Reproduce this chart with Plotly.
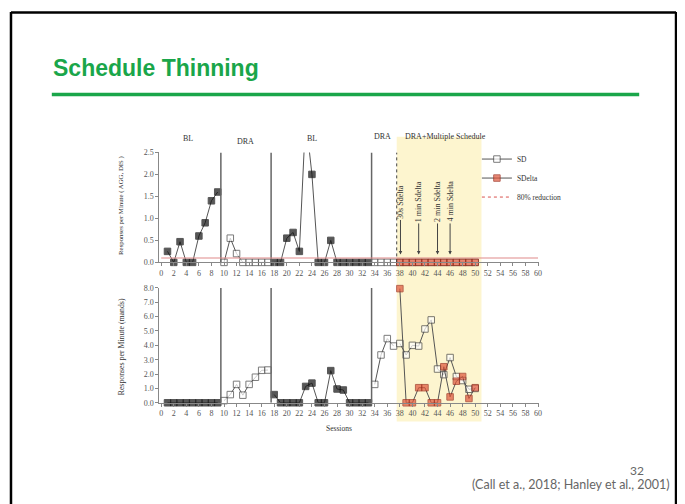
import plotly.graph_objects as go

# page size; the html body adds an 8px margin, so the figure is drawn smaller and shifted
PAGE_W, PAGE_H = 685, 504
OFF = 8
W, H = PAGE_W - OFF, PAGE_H - OFF

# sessions per phase
bl1_sessions = [1, 2, 3, 4, 5, 6, 7, 8, 9]
dra1_sessions = [10, 11, 12, 13, 14, 15, 16, 17]
bl2_sessions = [18, 19, 20, 21, 22, 23, 24, 25, 26, 27, 28, 29, 30, 31, 32, 33]
dra2_sessions = [34, 35, 36, 37]
mult_sessions = [38, 39, 40, 41, 42, 43, 44, 45, 46, 47, 48, 49, 50]

# top panel: responses per minute (AGG, DIS)
bl1_top = [0.25, 0, 0.47, 0, 0, 0.6, 0.9, 1.4, 1.6]
dra1_top = [0, 0.55, 0.2, 0, 0, 0, 0, 0]
bl2_top = [0, 0, 0.55, 0.68, 0.25, 3.3, 2.0, 0, 0, 0.5, 0, 0, 0, 0, 0, 0]
dra2_top = [0, 0, 0, 0]
sd_top = [0, 0, 0, 0, 0, 0, 0, 0, 0, 0, 0, 0, 0]
sdelta_top = [0, 0, 0, 0, 0, 0, 0, 0, 0, 0, 0, 0, 0]
reduction_level = 0.1

# bottom panel: responses per minute (mands)
bl1_bot = [0, 0, 0, 0, 0, 0, 0, 0, 0]
dra1_bot = [0.15, 0.57, 1.28, 0.53, 1.28, 1.78, 2.26, 2.28]
bl2_bot = [0.57, 0, 0, 0, 0, 1.14, 1.37, 0, 0, 2.24, 0.96, 0.89, 0, 0, 0, 0]
dra2_bot = [1.28, 3.33, 4.47, 3.95]
sd_bot = [4.13, 3.33, 4.0, 3.95, 5.14, 5.77, 2.35, 1.96, 3.15, 1.83, 1.55, 0.94, 1.0]
sdelta_bot = [7.95, 0, 0, 1.05, 1.05, 0, 0, 2.51, 0.41, 1.5, 1.83, 0.3, 1.05]

phase_lines = [9.5, 17.5, 33.5]
schedule_start = 37.5
shade_end = 51
x_ticks = list(range(0, 61, 2))

phase_labels = [("BL", 4.3, 137), ("DRA", 13.5, 140), ("BL", 24, 137),
                ("DRA", 35.3, 135), ("DRA+Multiple Schedule", 45.2, 135)]
arrow_labels = [("30s Sdelta", 38.1), ("1 min Sdelta", 41), ("2 min Sdelta", 44), ("4 min Sdelta", 46)]

SERIF = "Liberation Serif, Times New Roman, serif"
LINE = "#555"
RED = "#e0553a"
GREEN = "#1aa64a"
TOP_MAX = 2.5


def px(x):
    return (x - OFF) / W


def py(y):
    return 1 - (y - OFF) / H


fig = go.Figure()


def add_series(x, y, yaxis, style, ymax, name=None, legend=False, rank=None):
    sizes = [6.5 if v <= ymax else 0 for v in y]
    if style == "filled":
        marker = dict(symbol="square", size=sizes, color="#111", line=dict(color="#111", width=1))
    elif style == "open":
        marker = dict(symbol="square", size=sizes, color="white", line=dict(color="#444", width=1))
    else:
        marker = dict(symbol="square", size=sizes, color=RED, line=dict(color="#9b2a1a", width=1))
    fig.add_trace(go.Scatter(
        x=x, y=y, xaxis="x" if yaxis == "y" else "x2", yaxis=yaxis,
        mode="lines+markers", line=dict(color=LINE, width=1), marker=marker,
        cliponaxis=False, name=name, showlegend=legend, legendrank=rank,
    ))


# top panel
add_series(bl1_sessions, bl1_top, "y", "filled", TOP_MAX)
add_series(dra1_sessions, dra1_top, "y", "open", TOP_MAX)
add_series(bl2_sessions, bl2_top, "y", "filled", TOP_MAX)
add_series(dra2_sessions, dra2_top, "y", "open", TOP_MAX)
add_series(mult_sessions, sd_top, "y", "open", TOP_MAX)
add_series(mult_sessions, sdelta_top, "y", "red", TOP_MAX)

# bottom panel
add_series(bl1_sessions, bl1_bot, "y2", "filled", 8)
add_series(dra1_sessions, dra1_bot, "y2", "open", 8)
add_series(bl2_sessions, bl2_bot, "y2", "filled", 8)
add_series(dra2_sessions, dra2_bot, "y2", "open", 8)
add_series(mult_sessions, sd_bot, "y2", "open", 8, name="SD", legend=True, rank=1)
add_series(mult_sessions, sdelta_bot, "y2", "red", 8, name="SDelta", legend=True, rank=2)

# legend entry for the reduction criterion
fig.add_trace(go.Scatter(x=[None], y=[None], mode="lines", name="80% reduction",
                         line=dict(color="#d9534f", width=1, dash="dot"),
                         showlegend=True, legendrank=3))

shapes = []
# shaded multiple schedule phase
shapes.append(dict(type="rect", xref="x", yref="paper", x0=schedule_start, x1=shade_end,
                   y0=py(425), y1=py(135), fillcolor="#fdf5cf", line=dict(width=0), layer="below"))
# phase change lines
for xl in phase_lines:
    shapes.append(dict(type="line", xref="x", yref="y", x0=xl, x1=xl, y0=0, y1=TOP_MAX,
                       line=dict(color="#666", width=1.5)))
    shapes.append(dict(type="line", xref="x2", yref="y2", x0=xl, x1=xl, y0=0, y1=8,
                       line=dict(color="#666", width=1.5)))
shapes.append(dict(type="line", xref="x", yref="y", x0=schedule_start, x1=schedule_start,
                   y0=0, y1=TOP_MAX, line=dict(color="#444", width=1, dash="dot")))
# 80% reduction line
shapes.append(dict(type="line", xref="x", yref="y", x0=0, x1=60, y0=reduction_level, y1=reduction_level,
                   line=dict(color="#e08a8a", width=1.2)))
# slide frame and title rule
shapes.append(dict(type="line", xref="paper", yref="paper", x0=px(11), x1=px(11), y0=-0.05, y1=py(8),
                   line=dict(color="black", width=2.5)))
shapes.append(dict(type="line", xref="paper", yref="paper", x0=px(679), x1=px(679), y0=-0.05, y1=py(8),
                   line=dict(color="black", width=2.5)))
shapes.append(dict(type="line", xref="paper", yref="paper", x0=px(11), x1=px(679), y0=py(8.5), y1=py(8.5),
                   line=dict(color="black", width=2.5)))
shapes.append(dict(type="line", xref="paper", yref="paper", x0=px(52), x1=px(642), y0=py(92), y1=py(92),
                   line=dict(color=GREEN, width=3.5)))

annotations = []


def paper_text(text, x, y, size, family=SERIF, color="#333", xanchor="center", angle=0):
    annotations.append(dict(text=text, xref="paper", yref="paper", x=px(x), y=py(y),
                            xanchor=xanchor, yanchor="middle", textangle=angle, showarrow=False,
                            font=dict(family=family, size=size, color=color)))


paper_text("<b>Schedule Thinning</b>", 51, 65, 23, family="Liberation Sans, Arial, sans-serif",
           color=GREEN, xanchor="left")
paper_text("32", 640, 475, 12, family="Lato, Open Sans, sans-serif", color="#666")
paper_text("(Call et a., 2018; Hanley et al., 2001)", 675, 489, 12.5,
           family="Lato, Open Sans, sans-serif", color="#666", xanchor="right")
paper_text("Responses per Minute ( AGG, DIS )", 122, 205, 6.8, angle=-90)
paper_text("Responses per Minute (mands)", 122, 349, 7.8, angle=-90)
paper_text("Sessions", 340, 432, 7.5)

for label, xl, yp in phase_labels:
    annotations.append(dict(text=label, xref="x", yref="paper", x=xl, y=py(yp),
                            xanchor="center", yanchor="middle", showarrow=False,
                            font=dict(family=SERIF, size=8, color="#333")))
for label, xl in arrow_labels:
    annotations.append(dict(text=label, xref="x", yref="y", x=xl, y=0.18, ax=0, ay=-53,
                            textangle=-90, showarrow=True, arrowhead=2, arrowsize=0.7,
                            arrowwidth=1, arrowcolor="#444",
                            font=dict(family=SERIF, size=8, color="#333")))

axis_common = dict(showline=True, linecolor="#888", linewidth=1, showgrid=False, zeroline=False,
                   ticks="outside", ticklen=3, tickcolor="#888",
                   tickfont=dict(family=SERIF, size=8, color="#555"))

fig.update_layout(
    width=W, height=H,
    margin=dict(l=0, r=0, t=0, b=0),
    paper_bgcolor="white", plot_bgcolor="rgba(0,0,0,0)",
    shapes=shapes, annotations=annotations,
    xaxis=dict(domain=[px(160), px(541)], range=[-0.3, 60.1], anchor="y",
               tickvals=x_ticks, **axis_common),
    yaxis=dict(domain=[py(263), py(151)], range=[0, TOP_MAX], anchor="x",
               tickvals=[0, 0.5, 1.0, 1.5, 2.0, 2.5], tickformat=".1f", **axis_common),
    xaxis2=dict(domain=[px(160), px(541)], range=[-0.3, 60.1], anchor="y2",
                tickvals=x_ticks, **axis_common),
    yaxis2=dict(domain=[py(406), py(289)], range=[0, 8], anchor="x2",
                tickvals=[0, 1, 2, 3, 4, 5, 6, 7, 8], tickformat=".1f", **axis_common),
    legend=dict(x=px(479), y=py(143), xanchor="left", yanchor="top", bgcolor="rgba(0,0,0,0)",
                font=dict(family=SERIF, size=7.5, color="#333"), itemwidth=30, tracegroupgap=0),
)

fig.write_html("out.html")
